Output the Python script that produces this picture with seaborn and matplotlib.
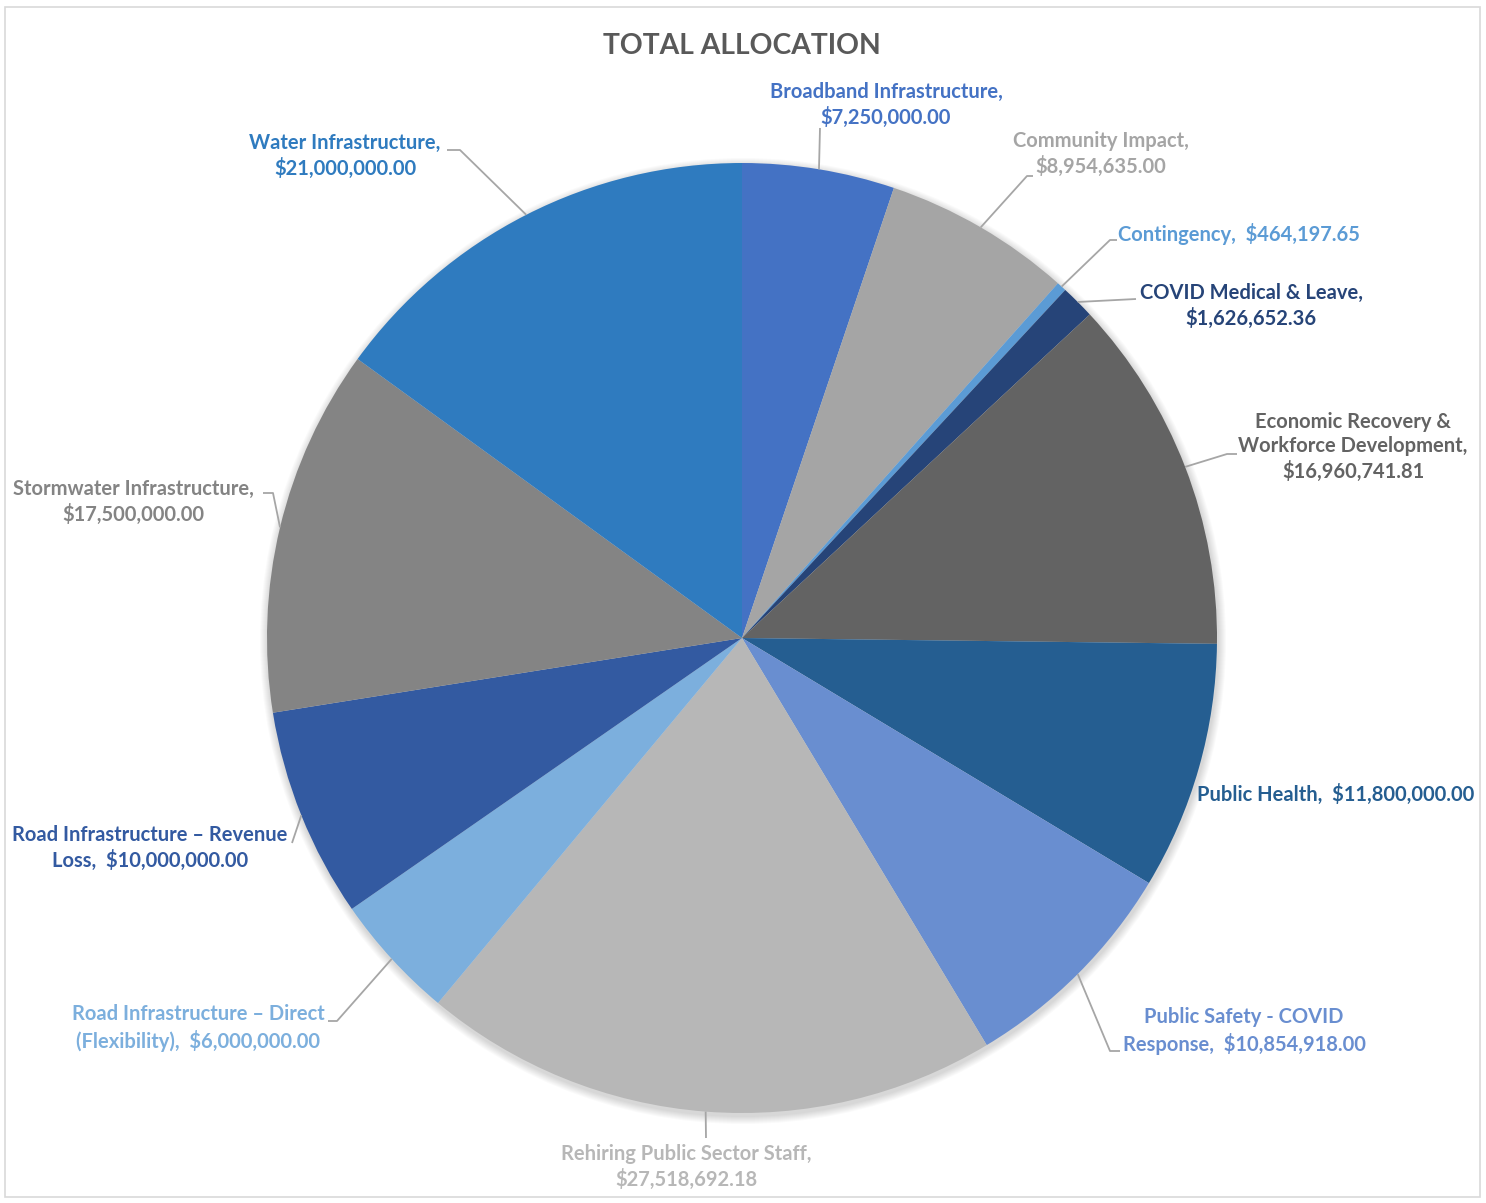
import numpy as np
import matplotlib
matplotlib.use('Agg')
import matplotlib.pyplot as plt
import seaborn as sns
from matplotlib.patches import Circle, Rectangle

# ---- data ----
categories = [
    'Broadband Infrastructure', 'Community Impact', 'Contingency',
    'COVID Medical & Leave', 'Economic Recovery &\nWorkforce Development',
    'Public Health', 'Public Safety - COVID\nResponse',
    'Rehiring Public Sector Staff', 'Road Infrastructure \u2013 Direct\n(Flexibility)',
    'Road Infrastructure \u2013 Revenue\nLoss', 'Stormwater Infrastructure',
    'Water Infrastructure',
]
amounts = [7250000.00, 8954635.00, 464197.65, 1626652.36, 16960741.81,
           11800000.00, 10854918.00, 27518692.18, 6000000.00, 10000000.00,
           17500000.00, 21000000.00]
colors = ['#4472C4', '#A5A5A5', '#5B9BD5', '#264478', '#636363', '#255E91',
          '#698ED0', '#B7B7B7', '#7CAFDD', '#335AA1', '#848484', '#2F7BBF']

# ---- layout (pixels, origin top-left) ----
W, H = 1486, 1203
CX, CY, R = 742, 638, 475
sep = [',\n', ',\n', ',  ', ',\n', ',\n', ',  ', ',  ', ',\n', ',  ', ',  ', ',\n', ',\n']
label_xy = [(886, 105), (1101, 154), (1239, 234), (1251, 306), (1353, 447),
            (1336, 794), (1244, 1031), (686, 1167), (198, 1028), (150, 848),
            (133, 502), (345, 156)]
leader = [[(820, 128)], [(1027, 176), (1033, 176)], [(1110, 240), (1117, 240)],
          [(1136, 299)], [(1227, 454), (1237, 454)], None,
          [(1110, 1051), (1120, 1051)], [(706, 1138)], [(337, 1021), (328, 1021)],
          [(292, 843)], [(273, 493), (263, 493)], [(460, 150), (447, 150)]]


def P(x, y):
    return x, H - y


sns.set_theme(style='white')
plt.rcParams['font.family'] = ['Lato', 'DejaVu Sans']

fig = plt.figure(figsize=(W / 100, H / 100), dpi=100)
ax = fig.add_axes([0, 0, 1, 1])

# soft shadow behind the pie
for k in range(1, 9):
    ax.add_patch(Circle(P(CX + 1, CY + 3), R + k, color='black', alpha=0.02, lw=0, zorder=0))

wedges, _ = ax.pie(amounts, colors=colors, startangle=90, counterclock=False,
                   center=P(CX, CY), radius=R, wedgeprops=dict(linewidth=0))
for w in wedges:
    w.set_zorder(2)

fs = 14.5
ls = 26 / (fs * 100 / 72)
for i, w in enumerate(wedges):
    mid = np.deg2rad((w.theta1 + w.theta2) / 2)
    rim = (CX + R * np.cos(mid), CY - R * np.sin(mid))
    if leader[i]:
        pts = [rim] + leader[i]
        xs = [p[0] for p in pts]
        ys = [H - p[1] for p in pts]
        ax.plot(xs, ys, color='#A6A6A6', lw=1.3, zorder=3, solid_capstyle='butt')
    txt = categories[i] + sep[i] + f'${amounts[i]:,.2f}'
    ax.text(*P(*label_xy[i]), txt, ha='center', va='center', fontsize=fs,
            fontweight='bold', color=colors[i], linespacing=ls, zorder=4)

ax.text(*P(742, 46), 'TOTAL ALLOCATION', ha='center', va='center',
        fontsize=20.3, fontweight='bold', color='#595959')

ax.add_patch(Rectangle(P(5, 1197), 1475, 1190, fill=False, ec='#D9D9D9', lw=1.2))

ax.set_xlim(0, W)
ax.set_ylim(0, H)
ax.set_aspect('auto')
ax.axis('off')

fig.savefig('out.png', dpi=100)
